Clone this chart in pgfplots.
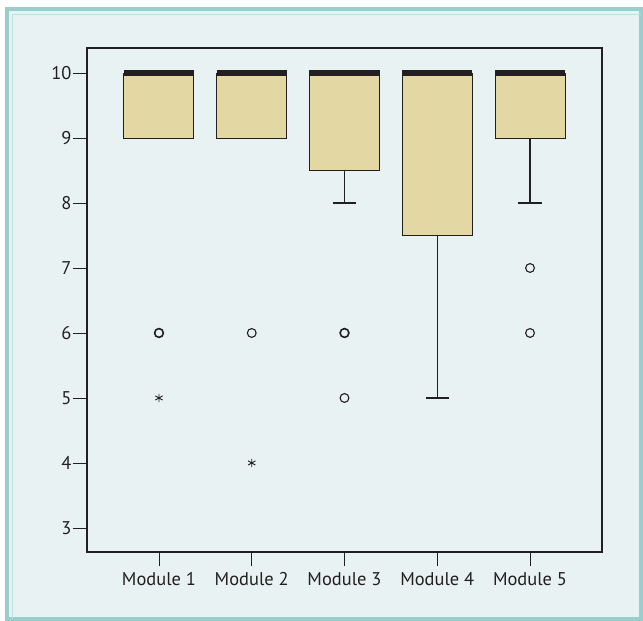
\documentclass[border=0pt]{standalone}
\usepackage{fontspec}
\setmainfont{PT Sans}
\usepackage{pgfplots}
\pgfplotsset{compat=1.18}
\definecolor{bg}{HTML}{E8F2F3}
\definecolor{frameA}{HTML}{9CCDCD}
\definecolor{frameB}{HTML}{BFE0E0}
\definecolor{boxfill}{HTML}{E3D8A4}
\definecolor{ink}{HTML}{231F20}
\begin{document}
\begin{tikzpicture}
\useasboundingbox (-87bp,-69bp) rectangle (556bp,552bp);
\fill[white] (-87bp,-69bp) rectangle (556bp,552bp);
\fill[bg] (-82bp,-69bp) rectangle (556bp,545bp);
\draw[frameA, line width=3.5bp] (-80bp,-67bp) rectangle (554bp,543bp);
\draw[frameB, line width=1bp] (-74bp,-67bp) -- (-74bp,537bp) -- (554bp,537bp);
\begin{axis}[
  scale only axis, width=515bp, height=504bp,
  xmin=0.224, xmax=5.776, ymin=2.63, ymax=10.385,
  axis line style={ink, line width=1.1bp},
  xtick={1,2,3,4,5},
  xticklabels={Module 1,Module 2,Module 3,Module 4,Module 5},
  ytick={3,4,5,6,7,8,9,10},
  tick align=outside, major tick length=14bp,
  xtick pos=bottom, ytick pos=left,
  tick style={ink, line width=0.9bp},
  /pgf/number format/assume math mode=true,
  ticklabel style={font=\fontsize{18.5}{20}\selectfont, text=ink},
  yticklabel style={xshift=2bp},
  xticklabel style={yshift=-3bp},
  clip=false,
]
% boxes (lower quartile to upper quartile = 10)
\addplot[fill=boxfill, draw=ink, line width=1bp] coordinates {(0.6225,9)(1.3775,9)(1.3775,10)(0.6225,10)} -- cycle;
\addplot[fill=boxfill, draw=ink, line width=1bp] coordinates {(1.6225,9)(2.3775,9)(2.3775,10)(1.6225,10)} -- cycle;
\addplot[fill=boxfill, draw=ink, line width=1bp] coordinates {(2.6225,8.5)(3.3775,8.5)(3.3775,10)(2.6225,10)} -- cycle;
\addplot[fill=boxfill, draw=ink, line width=1bp] coordinates {(3.6225,7.5)(4.3775,7.5)(4.3775,10)(3.6225,10)} -- cycle;
\addplot[fill=boxfill, draw=ink, line width=1bp] coordinates {(4.6225,9)(5.3775,9)(5.3775,10)(4.6225,10)} -- cycle;
% medians (all at 10)
\addplot[draw=ink, line width=5.5bp] coordinates {(0.6225,10)(1.3775,10)};
\addplot[draw=ink, line width=5.5bp] coordinates {(1.6225,10)(2.3775,10)};
\addplot[draw=ink, line width=5.5bp] coordinates {(2.6225,10)(3.3775,10)};
\addplot[draw=ink, line width=5.5bp] coordinates {(3.6225,10)(4.3775,10)};
\addplot[draw=ink, line width=5.5bp] coordinates {(4.6225,10)(5.3775,10)};
% lower whiskers
\addplot[draw=ink, line width=1.4bp] coordinates {(3,8.5)(3,8)};
\addplot[draw=ink, line width=1.7bp] coordinates {(2.875,8)(3.125,8)};
\addplot[draw=ink, line width=1.4bp] coordinates {(4,7.5)(4,5)};
\addplot[draw=ink, line width=1.7bp] coordinates {(3.875,5)(4.125,5)};
\addplot[draw=ink, line width=1.4bp] coordinates {(5,9)(5,8)};
\addplot[draw=ink, line width=1.7bp] coordinates {(4.875,8)(5.125,8)};
% outliers (circles)
\addplot[only marks, mark=o, mark size=4.4bp, draw=ink, line width=1.1bp] coordinates {(2,6)(3,5)(5,7)(5,6)};
\addplot[only marks, mark=o, mark size=4.4bp, draw=ink, line width=1.6bp] coordinates {(1,6)(3,6)};
% extreme values (stars)
\addplot[only marks, mark=asterisk, mark size=4.2bp, draw=ink, line width=0.9bp] coordinates {(1,5)(2,4)};
\end{axis}
\end{tikzpicture}
\end{document}
